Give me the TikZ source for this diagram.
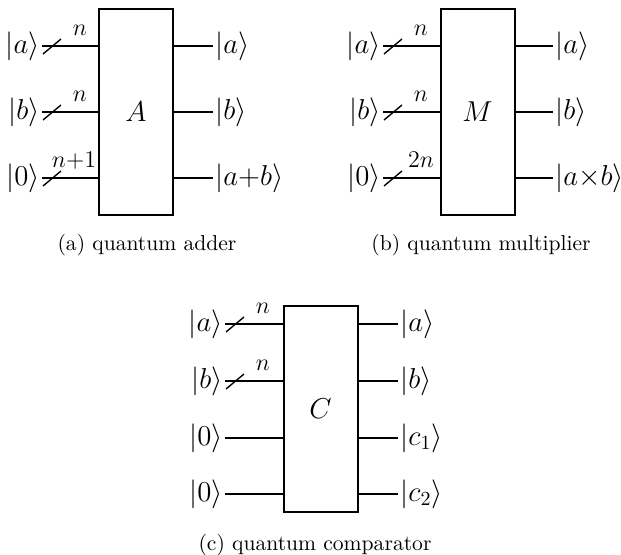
\documentclass[tikz,border=0pt]{standalone}
\usepackage{amsmath}
\usetikzlibrary{positioning,calc}
\tikzset{
  gate/.style={draw,line width=1pt,minimum width=37pt,minimum height=103pt,
               inner sep=0pt,font=\Large},
  ket/.style={inner sep=1pt,font=\Large},
  wire/.style={line width=0.7pt},
  busnum/.style={anchor=base,inner sep=0pt,font=\large},
  caption/.style={font=\fontsize{10.8pt}{13pt}\selectfont}
}
\begin{document}
\begin{tikzpicture}[x=0.5pt,y=-0.5pt]
  \useasboundingbox (0,0) rectangle (621,555);

  % (a) quantum adder
  \node[gate] (A) at (136,112) {$A$};
  \node[ket,anchor=east] (Aa) at (42,46)  {$|a\rangle$};
  \node[ket,anchor=east] (Ab) at (42,112) {$|b\rangle$};
  \node[ket,anchor=east] (A0) at (42,178) {$|0\rangle$};
  \node[ket,anchor=west] (Aoa) at (213,46)  {$|a\rangle$};
  \node[ket,anchor=west] (Aob) at (213,112) {$|b\rangle$};
  \node[ket,anchor=west] (Aos) at (213,178) {$|a{+}b\rangle$};
  \node[busnum] (Aan) at ([xshift=19pt,yshift=5pt]Aa.east) {$n$};
  \node[busnum] (Abn) at ([xshift=19pt,yshift=5pt]Ab.east) {$n$};
  \node[busnum] (A0n) at ([xshift=16pt,yshift=5pt]A0.east) {$n{+}1$};
  \node[caption] (capA) at (147,245) {(a) quantum adder};

  % (b) quantum multiplier
  \node[gate] (M) at (477.5,112) {$M$};
  \node[ket,anchor=east] (Ma) at (383,46)  {$|a\rangle$};
  \node[ket,anchor=east] (Mb) at (383,112) {$|b\rangle$};
  \node[ket,anchor=east] (M0) at (383,178) {$|0\rangle$};
  \node[ket,anchor=west] (Moa) at (553,46)  {$|a\rangle$};
  \node[ket,anchor=west] (Mob) at (553,112) {$|b\rangle$};
  \node[ket,anchor=west] (Mop) at (553,178) {$|a{\times}b\rangle$};
  \node[busnum] (Man) at ([xshift=19pt,yshift=5pt]Ma.east) {$n$};
  \node[busnum] (Mbn) at ([xshift=19pt,yshift=5pt]Mb.east) {$n$};
  \node[busnum] (M0n) at ([xshift=19pt,yshift=5pt]M0.east) {$2n$};
  \node[caption] (capM) at (481,245) {(b) quantum multiplier};

  % (c) quantum comparator
  \node[gate] (C) at (320.5,409) {$C$};
  \node[ket,anchor=east] (Ca)  at (225,324) {$|a\rangle$};
  \node[ket,anchor=east] (Cb)  at (225,381) {$|b\rangle$};
  \node[ket,anchor=east] (C0)  at (225,438) {$|0\rangle$};
  \node[ket,anchor=east] (C00) at (225,494) {$|0\rangle$};
  \node[ket,anchor=west] (Coa) at (398,324) {$|a\rangle$};
  \node[ket,anchor=west] (Cob) at (398,381) {$|b\rangle$};
  \node[ket,anchor=west] (Coc) at (398,438) {$|c_1\rangle$};
  \node[ket,anchor=west] (Cod) at (398,494) {$|c_2\rangle$};
  \node[busnum] (Can) at ([xshift=19pt,yshift=5pt]Ca.east) {$n$};
  \node[busnum] (Cbn) at ([xshift=19pt,yshift=5pt]Cb.east) {$n$};
  \node[caption] (capC) at (315,545) {(c) quantum comparator};

  % wires into and out of the gates
  \foreach \g/\w in {A/Aa,A/Ab,A/A0,M/Ma,M/Mb,M/M0,C/Ca,C/Cb,C/C0,C/C00}
    \draw[wire] (\w.east) -- (\w.east -| \g.west);
  \foreach \g/\w in {A/Aoa,A/Aob,A/Aos,M/Moa,M/Mob,M/Mop,C/Coa,C/Cob,C/Coc,C/Cod}
    \draw[wire] (\w.west -| \g.east) -- (\w.west);

  % bus slashes
  \foreach \w in {Aa,Ab,A0,Ma,Mb,M0,Ca,Cb}
    \draw[wire] ([xshift=0.5pt,yshift=-4pt]\w.east) -- ([xshift=9.5pt,yshift=3.5pt]\w.east);
\end{tikzpicture}
\end{document}
